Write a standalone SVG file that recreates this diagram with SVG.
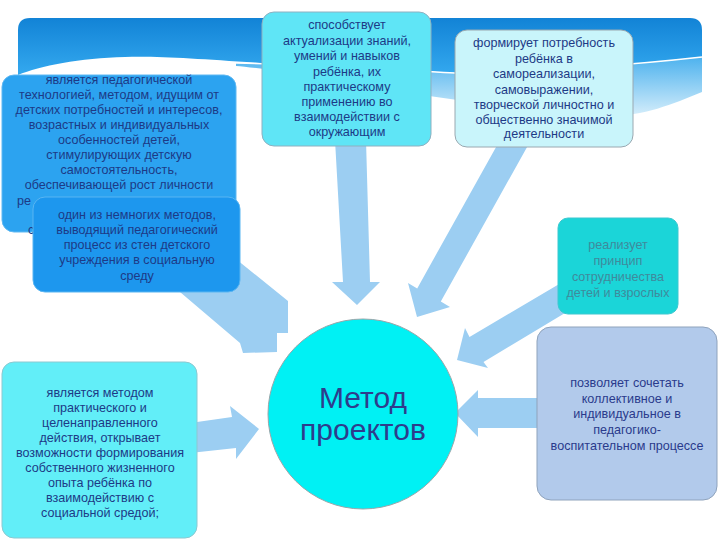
<svg xmlns="http://www.w3.org/2000/svg" width="720" height="540" viewBox="0 0 720 540">
<defs>
<linearGradient id="gBanner" x1="0" y1="0" x2="0" y2="1">
<stop offset="0" stop-color="#1283D6"/>
<stop offset="1" stop-color="#34A9EF"/>
</linearGradient>
<linearGradient id="gBand" x1="0" y1="0" x2="0" y2="1">
<stop offset="0" stop-color="#4DB2EE"/>
<stop offset="1" stop-color="#D6EEFB"/>
</linearGradient>
<style>
.t{font-family:"Liberation Sans","DejaVu Sans",sans-serif;font-size:12.6px;text-anchor:middle;fill:#1D3A86}
.arr{fill:#9CCEF2}
.box{stroke-width:1}
</style>
</defs>
<rect x="0" y="0" width="720" height="540" fill="#FFFFFF"/>
<g id="background">
<path d="M18,30 Q18,18 30,18 L690,18 Q702,18 702,30 L702,57 C670,60 640,64 600,67 C540,72 490,74 455,73 C400,70 320,65 260,63 C200,59 160,56 125,57 C80,58 40,66 18,75 Z" fill="url(#gBanner)"/>
<path d="M236,63 C320,65 400,70 455,73 C540,72 640,64 702,57 L702,92 C670,105 640,118 600,116 C500,108 400,92 320,78 C280,71 250,67 236,66 Z" fill="url(#gBand)"/>
<path d="M236,63 C320,65 400,70 455,73 C540,72 640,64 702,57" fill="none" stroke="#FFFFFF" stroke-width="1.5"/>
</g>
<g id="connectors">
<polygon class="arr" points="335,140 366,140 370,282 380,282 357,305 332,282 343,282"/>
<polygon class="arr" points="500,140 531,140 440.8,301.6 450,307 417,317 408,283 417.2,288.4"/>
<polygon class="arr" points="566,280 580,304 483.5,362 488,368 457,360 465,328 469.5,337"/>
<polygon class="arr" points="545,398 478,398 478,390 455,413 478,437 478,428 545,428"/>
<polygon class="arr" points="190,423 232,417 230,406 259,429 236,459 236,448 190,453"/>
<polygon class="arr" points="200,230 288,301 288,333 277,333 277,352 243,353 240,343 180,292 150,265"/>
</g>
<g id="node-a">
<rect class="box" x="2" y="75" width="234" height="157" rx="12" fill="#2CA3F0" stroke="#5FB8F2"/>
<text class="t" x="119" y="84">является педагогической</text>
<text class="t" x="119" y="99">технологией, методом, идущим от</text>
<text class="t" x="119" y="114">детских потребностей и интересов,</text>
<text class="t" x="119" y="129">возрастных и индивидуальных</text>
<text class="t" x="119" y="144">особенностей детей,</text>
<text class="t" x="119" y="159">стимулирующих детскую</text>
<text class="t" x="119" y="174">самостоятельность,</text>
<text class="t" x="119" y="189">обеспечивающей рост личности</text>
<text class="t" x="17" y="205" style="text-anchor:start">ре</text>
<text class="t" x="28" y="234" style="text-anchor:start">с</text>
</g>
<g id="node-b">
<rect class="box" x="33" y="197" width="207" height="95" rx="12" fill="#1D97EE" stroke="#59B5F2"/>
<text class="t" x="137" y="219">один из немногих методов,</text>
<text class="t" x="137" y="234">выводящий педагогический</text>
<text class="t" x="137" y="249">процесс из стен детского</text>
<text class="t" x="137" y="264">учреждения в социальную</text>
<text class="t" x="137" y="280">среду</text>
</g>
<g id="node-c">
<rect class="box" x="262" y="12" width="169" height="134" rx="12" fill="#5FE5F6" stroke="#8FB0C0"/>
<text class="t" x="347" y="29">способствует</text>
<text class="t" x="347" y="45">актуализации знаний,</text>
<text class="t" x="347" y="60">умений и навыков</text>
<text class="t" x="347" y="76">ребёнка, их</text>
<text class="t" x="347" y="91">практическому</text>
<text class="t" x="347" y="106">применению во</text>
<text class="t" x="347" y="121">взаимодействии с</text>
<text class="t" x="347" y="136">окружающим</text>
</g>
<g id="node-d">
<rect class="box" x="455" y="30" width="178" height="117" rx="12" fill="#C9F5FB" stroke="#9AA8B0"/>
<text class="t" x="544" y="47">формирует потребность</text>
<text class="t" x="544" y="63">ребёнка в</text>
<text class="t" x="544" y="78">самореализации,</text>
<text class="t" x="544" y="94">самовыражении,</text>
<text class="t" x="544" y="109">творческой личностно и</text>
<text class="t" x="544" y="124">общественно значимой</text>
<text class="t" x="544" y="138">деятельности</text>
</g>
<g id="node-e">
<rect class="box" x="558" y="218" width="120" height="96" rx="10" fill="#1BD5D8" stroke="#3CC8D0"/>
<text class="t" x="618" y="249" style="fill:#3F8A9C">реализует</text>
<text class="t" x="618" y="265" style="fill:#3F8A9C">принцип</text>
<text class="t" x="618" y="281" style="fill:#3F8A9C">сотрудничества</text>
<text class="t" x="618" y="297" style="fill:#3F8A9C">детей и взрослых</text>
</g>
<g id="node-f">
<rect class="box" x="537" y="327" width="180" height="173" rx="14" fill="#B2CAEB" stroke="#8FA3BC"/>
<text class="t" x="627" y="387" style="fill:#2A3A8C">позволяет сочетать</text>
<text class="t" x="627" y="403" style="fill:#2A3A8C">коллективное и</text>
<text class="t" x="627" y="418" style="fill:#2A3A8C">индивидуальное в</text>
<text class="t" x="627" y="434" style="fill:#2A3A8C">педагогико-</text>
<text class="t" x="627" y="450" style="fill:#2A3A8C">воспитательном процессе</text>
</g>
<g id="node-g">
<rect class="box" x="2" y="362" width="195" height="176" rx="12" fill="#62EEF8" stroke="#8CC8D0"/>
<text class="t" x="100" y="397">является методом</text>
<text class="t" x="100" y="412">практического и</text>
<text class="t" x="100" y="427">целенаправленного</text>
<text class="t" x="100" y="442">действия, открывает</text>
<text class="t" x="100" y="457">возможности формирования</text>
<text class="t" x="100" y="472">собственного жизненного</text>
<text class="t" x="100" y="487">опыта ребёнка по</text>
<text class="t" x="100" y="502">взаимодействию с</text>
<text class="t" x="100" y="517">социальной средой;</text>
</g>
<g id="node-center">
<circle cx="363" cy="414" r="95" fill="#00F1F4" stroke="#9AA6AA" stroke-width="1"/>
<text class="t" x="363" y="408" style="font-size:30px;fill:#2E3C8C">Метод</text>
<text class="t" x="363" y="440" style="font-size:30px;fill:#2E3C8C">проектов</text>
</g>
</svg>
